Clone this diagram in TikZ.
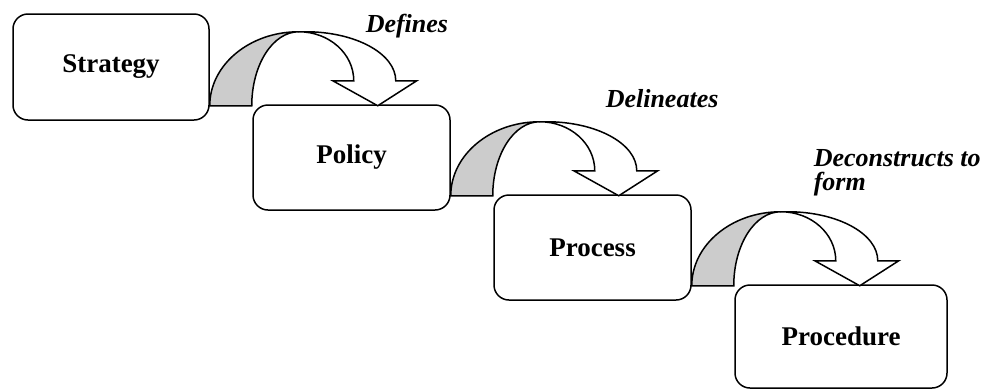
\documentclass[tikz,border=0pt]{standalone}
\usepackage{fontspec}
\setmainfont{Liberation Serif}
\usetikzlibrary{calc}
\definecolor{ribbongray}{RGB}{204,204,204}

% curved ribbon arrow, origin at its lower left corner
\newcommand{\ribbon}[1]{%
	\begin{scope}[shift={(#1)}]
		\filldraw[fill=ribbongray] (0,0) .. controls (0,-40.9) and (39.8,-74) .. (89,-74)
			.. controls (63,-74) and (42,-40.9) .. (42,0) -- cycle;
		\filldraw[fill=white] (89,-74) -- (96,-74) .. controls (145.7,-74) and (186,-52.1) .. (186,-25)
			-- (207,-25) -- (168,0) -- (123,-25) -- (144,-25)
			.. controls (144,-52.1) and (119.4,-74) .. (89,-74) -- cycle;
	\end{scope}}

\begin{document}
\begin{tikzpicture}[x=1pt,y=-1pt,line width=1.5pt,
	box/.style={draw,rounded corners=15pt,inner sep=0pt,minimum height=105pt,font=\bfseries\fontsize{27}{30}\selectfont},
	verb/.style={inner sep=0pt,anchor=base west,align=left,font=\bfseries\itshape\fontsize{26}{24}\selectfont}]
	\useasboundingbox (0,0) rectangle (992,389);

	\node[box,minimum width=196pt,minimum height=106pt] at (111,67) (strategy) {Strategy};
	\node[box,minimum width=197pt] at (351.5,157.5) (policy) {Policy};
	\node[box,minimum width=197pt] at (592.5,247.5) (process) {Process};
	\node[box,minimum width=212pt,minimum height=103pt] at (841,336.5) (procedure) {Procedure};

	\coordinate (r1) at ($(strategy.south east)+(0,-15)$);
	\coordinate (r2) at ($(policy.south east)+(0,-15)$);
	\coordinate (r3) at ($(process.south east)+(0,-15)$);
	\foreach \r in {r1,r2,r3}
		\ribbon{\r};

	\node[verb] at (365,32) (defines) {Defines};
	\node[verb] at (605,107) (delineates) {Delineates};
	% base anchor sits on the last line
	\node[verb] at (813,190) (deconstructs) {Deconstructs to\\form};
\end{tikzpicture}
\end{document}
